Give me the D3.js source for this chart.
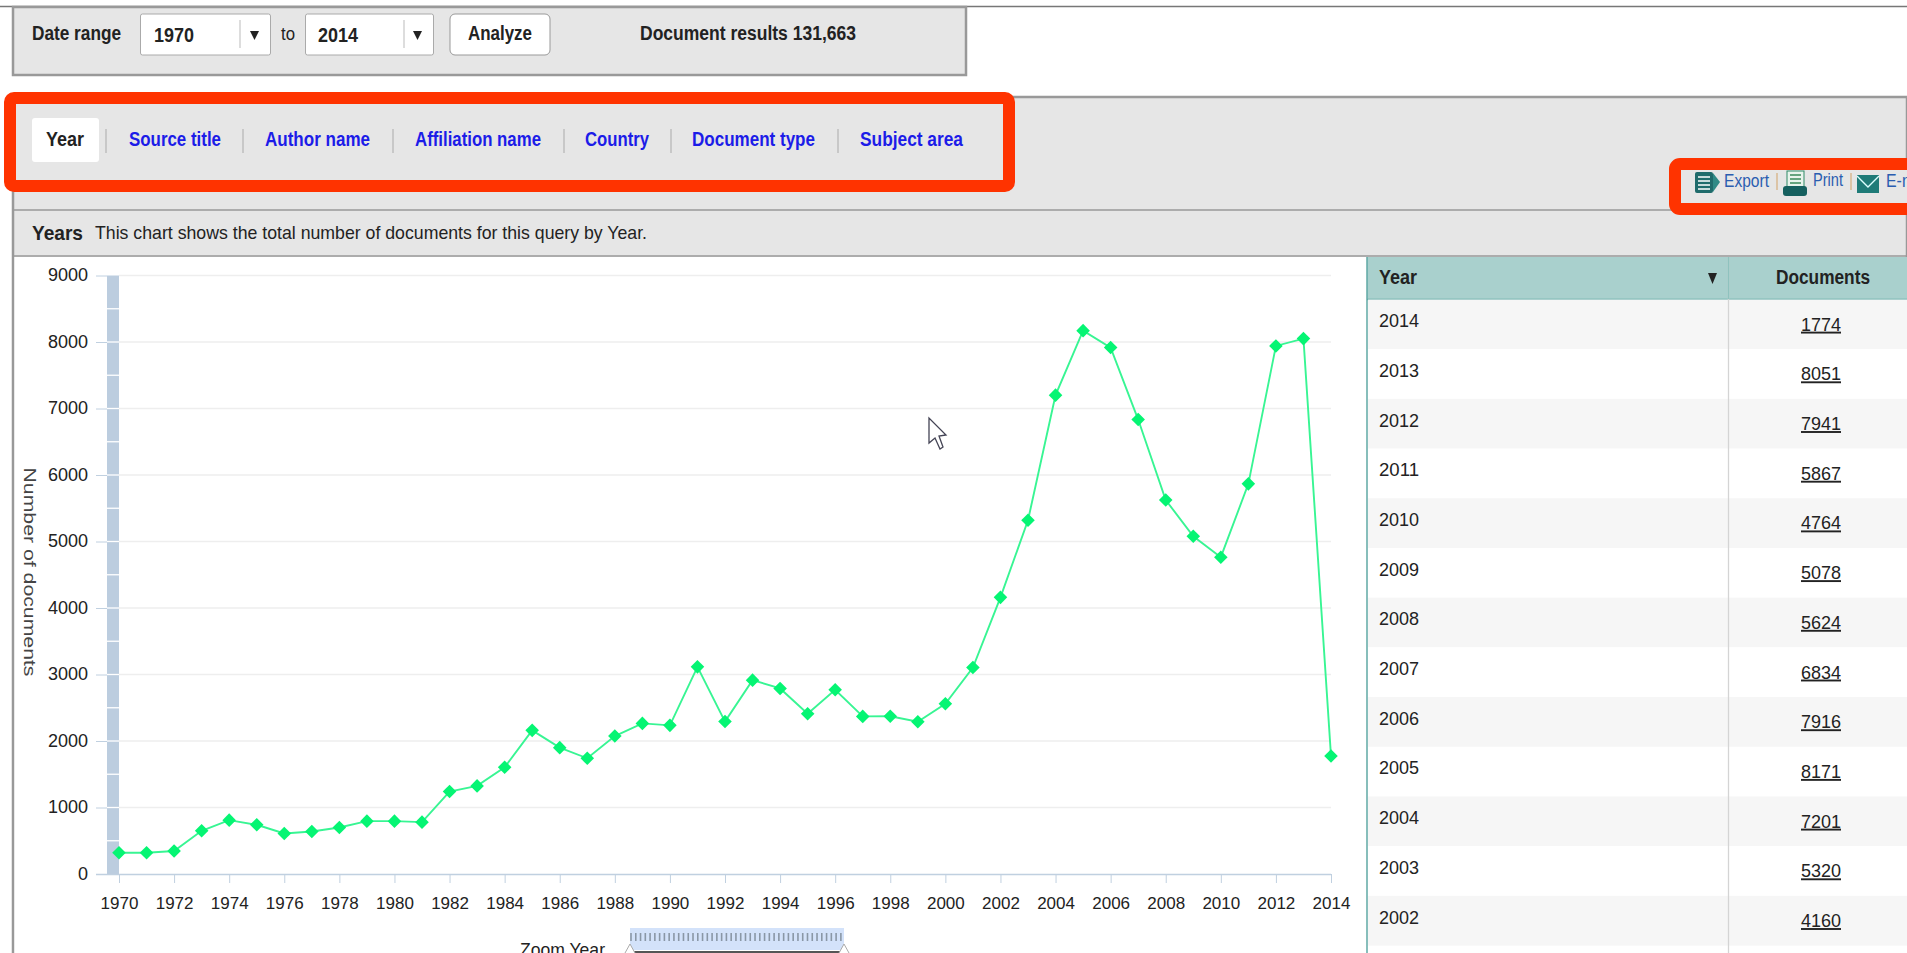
<!DOCTYPE html>
<html>
<head>
<meta charset="utf-8">
<script src="https://cdn.jsdelivr.net/npm/d3@7"></script>
<style>
  html, body { margin: 0; padding: 0; background: #fff; overflow: hidden; }
  svg { display: block; font-family: "Liberation Sans", Arial, sans-serif; }
</style>
</head>
<body>
<div id="chart"></div>
<script>
// Chart values, 1970 to 2014
var years = [1970, 1971, 1972, 1973, 1974, 1975, 1976, 1977, 1978, 1979, 1980, 1981, 1982, 1983, 1984,
  1985, 1986, 1987, 1988, 1989, 1990, 1991, 1992, 1993, 1994, 1995, 1996, 1997, 1998, 1999,
  2000, 2001, 2002, 2003, 2004, 2005, 2006, 2007, 2008, 2009, 2010, 2011, 2012, 2013, 2014];
var documents = [320, 320, 345, 650, 810, 740, 610, 640, 700, 795, 795, 780, 1240, 1325, 1605,
  2160, 1900, 1740, 2075, 2265, 2235, 3115, 2292, 2915, 2790, 2410, 2770, 2370, 2372, 2290,
  2560, 3105, 4160, 5320, 7201, 8171, 7916, 6834, 5624, 5078, 4764, 5867, 7941, 8051, 1774];

// Axis ticks
var yTicks = [0, 1000, 2000, 3000, 4000, 5000, 6000, 7000, 8000, 9000];
var yMinorTicks = d3.range(0, 9001, 500);
var xTicks = [1970, 1972, 1974, 1976, 1978, 1980, 1982, 1984, 1986, 1988, 1990, 1992, 1994, 1996,
  1998, 2000, 2002, 2004, 2006, 2008, 2010, 2012, 2014];

// Table rows, newest first
var tableYears = [2014, 2013, 2012, 2011, 2010, 2009, 2008, 2007, 2006, 2005, 2004, 2003, 2002];
var tableDocs = [1774, 8051, 7941, 5867, 4764, 5078, 5624, 6834, 7916, 8171, 7201, 5320, 4160];

// Tabs across the top
var tabNames = ["Source title", "Author name", "Affiliation name", "Country", "Document type", "Subject area"];
var tabLefts = [129, 265, 415, 585, 692, 860];
var tabWidths = [92, 105, 126, 64, 123, 103];
var tabSeps = [106, 243, 393, 564, 671, 838];

var svg = d3.select("#chart").append("svg")
  .attr("width", 1907)
  .attr("height", 953);

// Text squeezed to the width it has in the screenshot
function label(x, y, str, size, opts) {
  opts = opts || {};
  var t = svg.append("text")
    .attr("x", x)
    .attr("y", y)
    .attr("dy", ".35em")
    .attr("text-anchor", opts.anchor || "start")
    .style("font-size", size + "px")
    .style("font-weight", opts.weight || "normal")
    .attr("fill", opts.fill || "#222")
    .text(str);
  if (opts.width) {
    t.attr("textLength", opts.width).attr("lengthAdjust", "spacingAndGlyphs");
  }
  return t;
}

function box(x, y, w, h, fill, stroke, rx) {
  return svg.append("rect")
    .attr("x", x).attr("y", y)
    .attr("width", w).attr("height", h)
    .attr("rx", rx || 0)
    .attr("fill", fill)
    .attr("stroke", stroke || "none");
}

function rule(x1, y1, x2, y2, color, w) {
  svg.append("line")
    .attr("x1", x1).attr("y1", y1)
    .attr("x2", x2).attr("y2", y2)
    .attr("stroke", color)
    .attr("stroke-width", w || 1);
}

// Page top line and date range panel
rule(0, 6.5, 1907, 6.5, "#777", 1.5);
box(13, 7, 953, 68, "#e6e6e6", "#999").attr("stroke-width", 2.5);
label(32, 33, "Date range", 20, { weight: "bold", width: 89 });
box(140.5, 14, 130, 41, "#fff", "#aaa", 2);
label(154, 35, "1970", 20, { weight: "bold", width: 40 });
rule(240, 20, 240, 48, "#bbb");
svg.append("path").attr("d", "M250 31h9l-4.5 9z").attr("fill", "#222");
label(281, 33, "to", 19, { width: 14 });
box(305.5, 14, 128, 41, "#fff", "#aaa", 2);
label(318, 35, "2014", 20, { weight: "bold", width: 40 });
rule(404, 20, 404, 48, "#bbb");
svg.append("path").attr("d", "M413 31h9l-4.5 9z").attr("fill", "#222");
box(450, 14, 100, 41, "#fff", "#999", 5);
label(468, 33, "Analyze", 20, { weight: "bold", width: 64 });
label(640, 33, "Document results 131,663", 20, { weight: "bold", width: 216 });

// Main grey panel
box(13, 97, 1894, 860, "#e6e6e6", "#999").attr("stroke-width", 2.5);
rule(13, 210, 1907, 210, "#999", 1.5);
rule(13, 256, 1907, 256, "#999", 1.5);
box(14.5, 257, 1893, 696, "#fff");

// Tabs
box(32, 118, 67, 44, "#fff", null, 3);
label(46, 139, "Year", 20, { weight: "bold", width: 38 });
tabNames.forEach(function(name, i) {
  label(tabLefts[i], 139, name, 20, { weight: "bold", fill: "#1c1ce8", width: tabWidths[i] });
  rule(tabSeps[i], 129, tabSeps[i], 153, "#aaa");
});

label(32, 233, "Years", 21, { weight: "bold", width: 51 });
label(95, 232, "This chart shows the total number of documents for this query by Year.", 19, { width: 552 });

// Scales
var x = d3.scaleLinear().domain([1970, 2014]).range([119, 1331]);
var y = d3.scaleLinear().domain([0, 9000]).range([874, 275.5]);

// Gridlines
svg.append("g").selectAll("line")
  .data(yTicks.slice(1))
  .enter().append("line")
  .attr("x1", x(1970))
  .attr("x2", x(2014))
  .attr("y1", d => y(d))
  .attr("y2", d => y(d))
  .attr("stroke", "#eeeeee")
  .attr("stroke-width", 1.3);

// Thick left axis bar with white minor ticks
box(107, y(9000), 12, y(0) - y(9000), "#bccddf");
svg.append("g").selectAll("line")
  .data(yMinorTicks.slice(1, -1))
  .enter().append("line")
  .attr("x1", 107)
  .attr("x2", 119)
  .attr("y1", d => y(d))
  .attr("y2", d => y(d))
  .attr("stroke", "#fff")
  .attr("stroke-width", 1.3);

// Y axis
var yAxis = svg.append("g")
  .attr("transform", "translate(107,0)")
  .call(d3.axisLeft(y).tickValues(yTicks).tickSize(11).tickPadding(8).tickFormat(d3.format("d")));
yAxis.select(".domain").remove();
yAxis.selectAll("line").attr("stroke", "#c0d0e0");
yAxis.selectAll("text")
  .attr("dy", ".28em")
  .style("font-size", "18px")
  .style("font-family", "Liberation Sans")
  .attr("fill", "#222");

// X axis
var xAxis = svg.append("g")
  .attr("transform", "translate(0," + y(0) + ")")
  .call(d3.axisBottom(x).tickValues(xTicks).tickSize(9).tickPadding(14).tickFormat(d3.format("d")));
xAxis.select(".domain").remove();
xAxis.selectAll("line").attr("stroke", "#c0d0e0");
xAxis.selectAll("text")
  .style("font-size", "17px")
  .style("font-family", "Liberation Sans")
  .attr("fill", "#222");
rule(96, y(0) + 0.5, x(2014), y(0) + 0.5, "#c0d0e0", 1.5);

// Y axis title, reads downward
svg.append("text")
  .attr("transform", "translate(24,572) rotate(90)")
  .attr("text-anchor", "middle")
  .style("font-size", "17px")
  .attr("fill", "#444")
  .attr("textLength", 209)
  .attr("lengthAdjust", "spacingAndGlyphs")
  .text("Number of documents");

// Line
var line = d3.line()
  .x((d, i) => x(years[i]))
  .y(d => y(d));

svg.append("path")
  .datum(documents)
  .attr("fill", "none")
  .attr("stroke", "#38f593")
  .attr("stroke-width", 1.9)
  .attr("d", line);

// Diamond markers
svg.append("g").selectAll("path")
  .data(documents)
  .enter().append("path")
  .attr("d", d3.symbol(d3.symbolSquare, 92))
  .attr("transform", (d, i) => "translate(" + x(years[i]) + "," + y(d) + ") rotate(45)")
  .attr("fill", "#05f573");

// Mouse pointer
svg.append("path")
  .attr("d", "M929 418L929 443L935 438L940 449L943 447L939 436L946 435Z")
  .attr("fill", "#fff")
  .attr("stroke", "#445")
  .attr("stroke-width", 1.3);

// Zoom slider under the axis
label(520, 949, "Zoom Year", 19, { width: 85 });
box(630, 928, 214, 22, "#d3e2fa");
svg.append("g").selectAll("line")
  .data(d3.range(45))
  .enter().append("line")
  .attr("x1", d => 631 + d * 4.77)
  .attr("x2", d => 631 + d * 4.77)
  .attr("y1", 933)
  .attr("y2", 941)
  .attr("stroke", "#8a97a6")
  .attr("stroke-width", 1.6);
rule(632, 952, 842, 952, "#555", 2);
svg.append("path").attr("d", "M625 953L630 944L635 953").attr("fill", "#fff").attr("stroke", "#aaa");
svg.append("path").attr("d", "M839 953L844 944L849 953").attr("fill", "#fff").attr("stroke", "#aaa");

// Table
var rowY = d3.scaleLinear().domain([0, 1]).range([299.5, 349.2]);
box(1367, 257, 540, 42.5, "#a9d0cd");
rule(1367, 299.5, 1907, 299.5, "#5fa8a5", 1.5);
rule(1367, 257, 1367, 953, "#5fa8a5", 1.5);
svg.append("g").selectAll("rect")
  .data(tableYears)
  .enter().append("rect")
  .attr("x", 1368)
  .attr("y", (d, i) => rowY(i))
  .attr("width", 539)
  .attr("height", rowY(1) - rowY(0))
  .attr("fill", (d, i) => i % 2 ? "#fff" : "#f6f6f6");
rule(1728.5, 257, 1728.5, 953, "#d4d4d4", 1.3);
rule(1728.5, 257, 1728.5, 299, "#8fc2be", 1.3);

label(1379, 277, "Year", 20, { weight: "bold", width: 38 });
svg.append("path").attr("d", "M1708 273h9l-4.5 11z").attr("fill", "#222");
label(1823, 277, "Documents", 20, { weight: "bold", anchor: "middle", width: 94 });

tableYears.forEach(function(yr, i) {
  label(1379, rowY(i) + 21, yr, 19, { width: 40 });
  label(1821, rowY(i) + 24.5, tableDocs[i], 19, { anchor: "middle", width: 40 })
    .style("text-decoration", "underline");
});

// Export / print / mail links
box(1675, 164, 240, 45, "#e6e6e6", "#ff3300", 5).attr("stroke-width", 12);
box(1695, 172, 18, 21, "#1f6b6b", null, 2);
[177, 181, 185, 189].forEach(function(ly) { rule(1698, ly, 1710, ly, "#fff", 1.5); });
svg.append("path").attr("d", "M1713 173L1720 182L1713 192Z").attr("fill", "#2f8a86");
label(1724, 181, "Export", 18, { fill: "#2a5db0", width: 45 });
rule(1777, 173, 1777, 190, "#d8b890", 1.5);
box(1787, 171, 17, 18, "#e8f4ec", "#2f8a66");
[175, 179, 183].forEach(function(ly) { rule(1790, ly, 1801, ly, "#3a8a5a", 1.5); });
box(1783, 186, 24, 10, "#16605f", null, 3);
label(1813, 180, "Print", 18, { fill: "#2a5db0", width: 30 });
rule(1851, 173, 1851, 190, "#d8b890", 1.5);
box(1857, 175, 22, 18, "#1f7b78");
svg.append("path").attr("d", "M1857 176L1868 187L1879 176").attr("fill", "none").attr("stroke", "#dff").attr("stroke-width", 1.4);
label(1886, 181, "E-mail", 18, { fill: "#2a5db0", width: 45 });

// Red callout around the tabs
box(10, 98, 999, 88, "none", "#ff3300", 4).attr("stroke-width", 12);
</script>
</body>
</html>
